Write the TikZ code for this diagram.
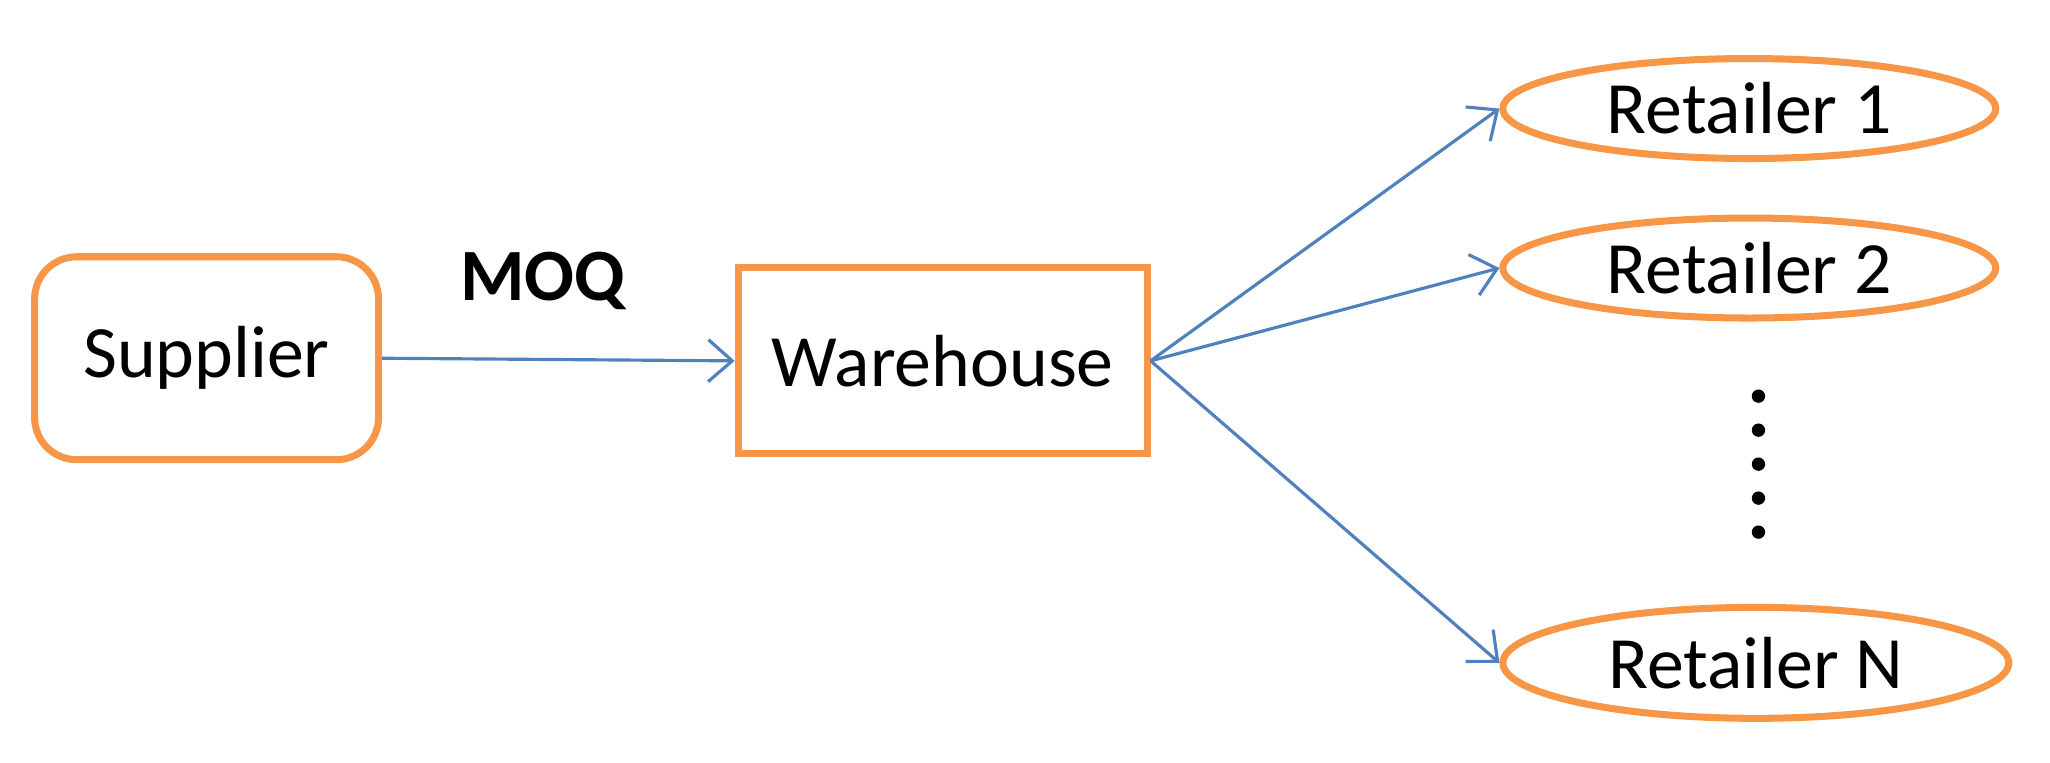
\documentclass[tikz,border=0pt]{standalone}
\usepackage{fontspec}
\setmainfont{Carlito}
\usetikzlibrary{arrows.meta, shapes.geometric}
\definecolor{boxorange}{RGB}{247,150,70}
\definecolor{linkblue}{RGB}{79,129,189}

\begin{document}
\begin{tikzpicture}[x=0.01307cm, y=-0.01307cm,
    font=\fontsize{21}{25}\selectfont,
    box/.style={draw=boxorange, line width=2pt, inner sep=0pt},
    retailer/.style={box, ellipse, minimum width=4.93cm, minimum height=1.0cm},
    link/.style={draw=linkblue, line width=0.9pt, -{Straight Barb[length=2.4mm, width=4.2mm]}}]
  \useasboundingbox (0,0) rectangle (1568,583);

  % main chain
  \node[box, rounded corners=12pt, minimum width=3.44cm, minimum height=2.03cm] (supplier) at (158,274) {Supplier};
  \node[box, minimum width=4.09cm, minimum height=1.86cm] (warehouse) at (721,276) {Warehouse};
  \node[font=\fontsize{21}{25}\selectfont\bfseries] (moq) at (415,215) {MOQ};

  % retailers
  \node[retailer] (r1) at (1338,83) {Retailer 1};
  \node[retailer] (r2) at (1338,205) {Retailer 2};
  \node[retailer, minimum width=5.06cm, minimum height=1.11cm] (rn) at (1343,507) {Retailer N};

  \foreach \y in {303,329,355,381,407}
    \fill (1345,\y) circle (1.9pt);

  \draw[link] (supplier.east) -- (warehouse.west);
  \foreach \r in {r1, r2, rn}
    \draw[link] (warehouse.east) -- (\r.west);
\end{tikzpicture}
\end{document}
